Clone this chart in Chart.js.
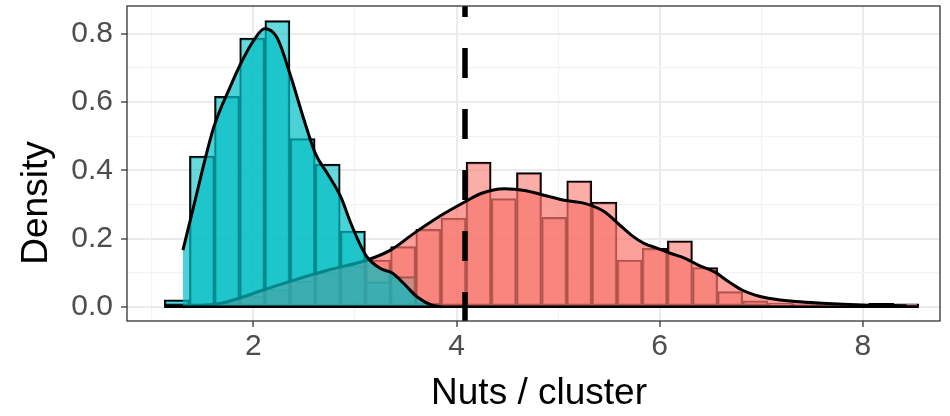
<!DOCTYPE html>
<html>
<head>
<meta charset="utf-8">
<script src="https://cdn.jsdelivr.net/npm/chart.js@4.4.1/dist/chart.umd.min.js"></script>
<style>
  html, body { margin: 0; padding: 0; background: #fff; }
  #wrap { width: 950px; height: 416px; }
</style>
</head>
<body>
<div id="wrap"><canvas id="myChart"></canvas></div>
<script>
// histogram bins (centres), 30 bins
const binCenters = [1.245, 1.493, 1.740, 1.988, 2.236, 2.484, 2.731, 2.979, 3.227, 3.474,
                    3.722, 3.970, 4.217, 4.465, 4.713, 4.961, 5.208, 5.456, 5.704, 5.951,
                    6.199, 6.447, 6.694, 6.942, 7.190, 7.438, 7.685, 7.933, 8.181, 8.428];
const binWidth = 0.2477;

// histogram densities per bin
const tealHist = [0.02, 0.442, 0.617, 0.788, 0.839, 0.493, 0.418, 0.222, 0.073, 0.088,
                  0.01, 0, 0, 0, 0, 0, 0, 0, 0, 0,
                  0, 0, 0, 0, 0, 0, 0, 0, 0, 0];
const salmonHist = [0, 0.004, 0.012, 0.03, 0.05, 0.075, 0.1, 0.12, 0.137, 0.176,
                    0.227, 0.26, 0.424, 0.317, 0.393, 0.262, 0.369, 0.307, 0.137, 0.171,
                    0.193, 0.115, 0.044, 0.017, 0.01, 0.008, 0.006, 0.006, 0.01, 0.008];

// density curves
const tealDensX = [1.306, 1.41, 1.61, 1.77, 1.89, 2.00, 2.11, 2.23, 2.37, 2.50, 2.61,
                   2.73, 2.86, 2.96, 3.06, 3.12, 3.25, 3.37, 3.48, 3.61, 3.75, 3.85];
const tealDensY = [0.166, 0.293, 0.527, 0.644, 0.722, 0.780, 0.815, 0.790, 0.673, 0.546, 0.449,
                   0.390, 0.322, 0.244, 0.176, 0.145, 0.112, 0.098, 0.068, 0.029, 0.005, 0.0];
const salmonDensX = [1.31, 1.68, 2.10, 2.40, 2.73, 3.12, 3.35, 3.58, 3.85, 4.08, 4.24,
                     4.47, 4.67, 4.86, 5.06, 5.26, 5.46, 5.59, 5.72, 5.85, 5.98, 6.11,
                     6.25, 6.38, 6.54, 6.68, 6.81, 6.94, 7.07, 7.34, 7.60, 8.00, 8.43];
const salmonDensY = [0.0, 0.01, 0.049, 0.078, 0.107, 0.137, 0.166, 0.215, 0.268, 0.307, 0.332,
                     0.346, 0.341, 0.327, 0.312, 0.303, 0.278, 0.244, 0.21, 0.185, 0.171, 0.156,
                     0.142, 0.122, 0.102, 0.073, 0.049, 0.034, 0.025, 0.015, 0.01, 0.005, 0.003];

const cutoff = 4.083; // dashed line
const xMin = 0.755, xMax = 8.76;
const yMin = -0.042, yMax = 0.882;

const toPts = (xs, ys) => xs.map((x, i) => ({ x: x, y: ys[i] }));
const isMajor = (v, step) => Math.round(v / step) % 2 === 0;
const major = (c, step) => c && c.tick ? isMajor(c.tick.value, step) : true;

// panel border + axis titles
const panelPlugin = {
  id: 'panel',
  afterDraw(chart) {
    const { ctx, chartArea: a } = chart;
    ctx.save();
    ctx.strokeStyle = '#333333';
    ctx.lineWidth = 1.3;
    ctx.strokeRect(a.left, a.top, a.right - a.left, a.bottom - a.top);
    ctx.fillStyle = '#000';
    ctx.font = '37px "Liberation Sans", Arial, sans-serif';
    ctx.textAlign = 'center';
    ctx.textBaseline = 'middle';
    ctx.fillText('Nuts / cluster', 539, 394);
    ctx.translate(37, 203);
    ctx.rotate(-Math.PI / 2);
    ctx.fillText('Density', 0, 0);
    ctx.restore();
  }
};

const ctx = document.getElementById('myChart').getContext('2d');
new Chart(ctx, {
  type: 'bar',
  data: {
    datasets: [
      { // vline
        type: 'line', order: 0,
        data: [{ x: cutoff, y: yMax }, { x: cutoff, y: yMin }],
        borderColor: '#000', borderWidth: 5.5, borderDash: [30, 31], borderDashOffset: 19,
        borderCapStyle: 'butt', pointRadius: 0, fill: false
      },
      { // histogram baseline
        type: 'line', order: 1,
        data: [{ x: binCenters[0] - binWidth / 2, y: 0 }, { x: binCenters[binCenters.length - 1] + binWidth / 2, y: 0 }],
        borderColor: '#000', borderWidth: 2.5, pointRadius: 0, fill: false
      },
      {
        type: 'line', order: 2,
        data: toPts(tealDensX, tealDensY),
        borderColor: '#000', borderWidth: 3, pointRadius: 0,
        backgroundColor: 'rgba(0,191,196,0.7)', fill: 'origin',
        cubicInterpolationMode: 'monotone'
      },
      {
        type: 'line', order: 3,
        data: toPts(salmonDensX, salmonDensY),
        borderColor: '#000', borderWidth: 3, pointRadius: 0,
        backgroundColor: 'rgba(248,118,109,0.7)', fill: 'origin',
        cubicInterpolationMode: 'monotone'
      },
      {
        order: 4,
        data: toPts(binCenters, tealHist),
        backgroundColor: 'rgba(0,191,196,0.6)', borderColor: '#000', borderWidth: 1.8,
        borderSkipped: false, grouped: false, barPercentage: 1, categoryPercentage: 1
      },
      {
        order: 5,
        data: toPts(binCenters, salmonHist),
        backgroundColor: 'rgba(248,118,109,0.6)', borderColor: '#000', borderWidth: 1.8,
        borderSkipped: false, grouped: false, barPercentage: 1, categoryPercentage: 1
      }
    ]
  },
  options: {
    responsive: true,
    maintainAspectRatio: false,
    devicePixelRatio: 1,
    animation: false,
    layout: { padding: { top: 6, right: 10, left: 0, bottom: 0 } },
    plugins: {
      legend: { display: false },
      tooltip: { enabled: false }
    },
    scales: {
      x: {
        type: 'linear', min: xMin, max: xMax, offset: false,
        afterFit: s => { s.height = 95; s.paddingLeft = 0; s.paddingRight = 0; },
        border: { display: false },
        grid: {
          offset: false,
          color: c => major(c, 1) ? '#EBEBEB' : '#F3F3F3',
          lineWidth: c => major(c, 1) ? 2 : 1.2,
          tickColor: c => major(c, 1) ? '#333333' : 'rgba(0,0,0,0)',
          tickLength: 6, tickWidth: 1.3
        },
        ticks: {
          stepSize: 1, includeBounds: false, autoSkip: false, maxRotation: 0,
          padding: 2, color: '#4D4D4D',
          font: { family: '"Liberation Sans", Arial, sans-serif', size: 30 },
          callback: v => isMajor(v, 1) ? String(v) : ''
        }
      },
      y: {
        type: 'linear', min: yMin, max: yMax,
        afterFit: s => { s.width = 127; s.paddingTop = 0; s.paddingBottom = 0; },
        border: { display: false },
        grid: {
          offset: false,
          color: c => major(c, 0.1) ? '#EBEBEB' : '#F3F3F3',
          lineWidth: c => major(c, 0.1) ? 2 : 1.2,
          tickColor: c => major(c, 0.1) ? '#333333' : 'rgba(0,0,0,0)',
          tickLength: 6, tickWidth: 1.3
        },
        ticks: {
          stepSize: 0.1, includeBounds: false, autoSkip: false,
          padding: 8, color: '#4D4D4D',
          font: { family: '"Liberation Sans", Arial, sans-serif', size: 30 },
          callback: v => isMajor(v, 0.1) ? v.toFixed(1) : ''
        }
      }
    }
  },
  plugins: [panelPlugin]
});
</script>
</body>
</html>
